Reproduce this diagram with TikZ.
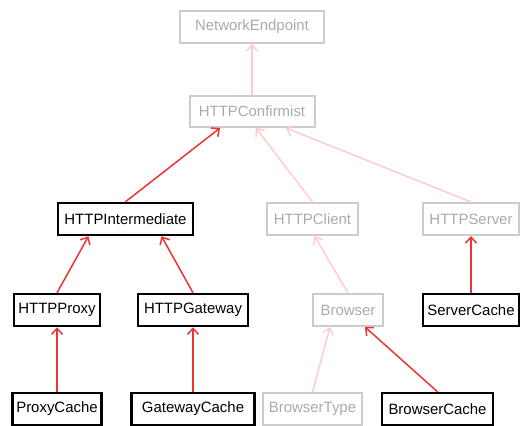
\documentclass[tikz,border=0pt]{standalone}
\usepackage{fontspec}
\setmainfont{Liberation Sans}
\usetikzlibrary{arrows.meta,calc}
\definecolor{grayline}{HTML}{CCCCCC}
\definecolor{graytext}{HTML}{AAAAAA}
\definecolor{redline}{HTML}{EE3333}
\definecolor{pinkline}{HTML}{FFCCCC}
\tikzset{
  cls/.style={rectangle, inner sep=0pt, minimum height=32bp, font=\fontsize{15}{18}\selectfont},
  active/.style={cls, draw=black, line width=2.5bp, text=black},
  inactive/.style={cls, draw=grayline, line width=2bp, text=graytext},
  redarr/.style={draw=redline, line width=1.5bp, -{Straight Barb[length=6bp,width=11bp,line width=1.5bp]}},
  pinkarr/.style={draw=pinkline, line width=1.5bp, -{Straight Barb[length=6bp,width=11bp,line width=1.5bp]}},
}
\begin{document}
\begin{tikzpicture}[x=1bp,y=-1bp]
\useasboundingbox (0,0) rectangle (522,425);
\node[inactive, minimum width=144bp] (NE) at (252,27) {NetworkEndpoint};
\node[inactive, minimum width=125bp, minimum height=31bp] (HC) at (252,111.5) {HTTPConfirmist};
\node[active, minimum width=135bp] (HI) at (125.5,219) {HTTPIntermediate};
\node[inactive, minimum width=91bp] (HCl) at (312.5,219) {HTTPClient};
\node[inactive, minimum width=96bp] (HS) at (471,219) {HTTPServer};
\node[active, minimum width=86bp] (HP) at (57,310) {HTTPProxy};
\node[active, minimum width=110bp] (HG) at (193,310) {HTTPGateway};
\node[inactive, minimum width=70bp] (B) at (348,310) {Browser};
\node[active, minimum width=96bp] (SC) at (471,310) {ServerCache};
\node[active, minimum width=89bp] (PC) at (57,409) {ProxyCache};
\node[active, minimum width=123bp] (GC) at (193,409) {GatewayCache};
\node[inactive, minimum width=99bp] (BT) at (312.5,409) {BrowserType};
\node[active, minimum width=111bp] (BC) at (437.5,409) {BrowserCache};

\draw[pinkarr] (HC.north) -- (NE.south);
\draw[redarr] (HI.north) -- ($(HC.south)+(-32,0)$);
\draw[pinkarr] (HCl.north) -- ($(HC.south)+(4,0)$);
\draw[pinkarr] (HS.north) -- ($(HC.south)+(34,0)$);
\draw[redarr] (HP.north) -- ($(HI.south)+(-37,0)$);
\draw[redarr] (HG.north) -- ($(HI.south)+(36,0)$);
\draw[pinkarr] (B.north) -- ($(HCl.south)+(2,0)$);
\draw[redarr] (SC.north) -- (HS.south);
\draw[redarr] (PC.north) -- (HP.south);
\draw[redarr] (GC.north) -- (HG.south);
\draw[pinkarr] (BT.north) -- ($(B.south)+(-18,0)$);
\draw[redarr] (BC.north) -- ($(B.south)+(17,0)$);
\end{tikzpicture}
\end{document}
